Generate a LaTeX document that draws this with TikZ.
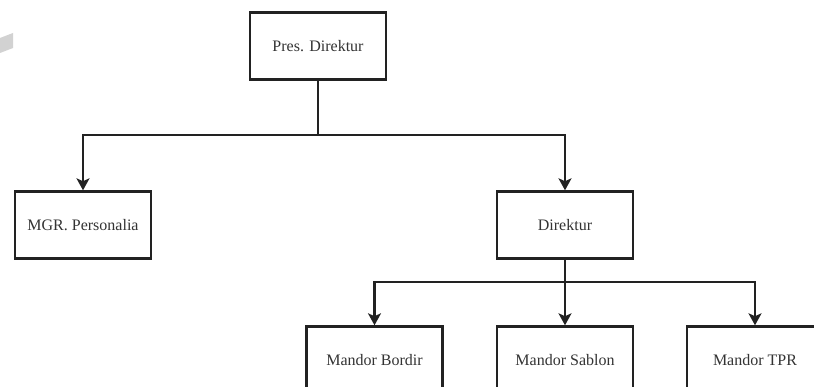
\documentclass[tikz,border=0pt]{standalone}
\usepackage{fontspec}
\setmainfont{Liberation Serif}
\usetikzlibrary{arrows.meta}
\definecolor{ln}{HTML}{222222}
\definecolor{tx}{HTML}{333333}
\begin{document}
\begin{tikzpicture}[x=1pt,y=-1pt,
  box/.style={draw=ln,line width=2.4pt,fill=white,minimum width=136pt,minimum height=67pt,
    inner sep=0pt,text=tx,font=\fontsize{16}{19}\selectfont},
  conn/.style={draw=ln,line width=2.6pt},
  arr/.style={conn,-{Stealth[length=12pt,width=13pt,inset=3pt]}}]
\useasboundingbox (0,0) rectangle (814,387);
\clip (0,0) rectangle (814,387);
\fill[white] (0,0) rectangle (814,387);
\fill[gray!35] (0,38) -- (13,33) -- (13,48) -- (0,53) -- cycle;
\node[box] (pres) at (318,46) {Pres. Direktur};
\node[box] (mgr) at (83,225) {MGR. Personalia};
\node[box] (dir) at (565,225) {Direktur};
\node[box] (bordir) at (374.5,360) {Mandor Bordir};
\node[box] (sablon) at (565,360) {Mandor Sablon};
\node[box] (tpr) at (755,360) {Mandor TPR};
\coordinate (j1) at (pres.south |- 0,135);
\coordinate (j2) at (dir.south |- 0,282);
\draw[conn] (pres.south) -- (j1);
\draw[arr] (j1) -| (mgr.north);
\draw[arr] (j1) -| (dir.north);
\draw[arr] (dir.south) -- (sablon.north);
\draw[arr] (j2) -| (bordir.north);
\draw[arr] (j2) -| (tpr.north);
\end{tikzpicture}
\end{document}
